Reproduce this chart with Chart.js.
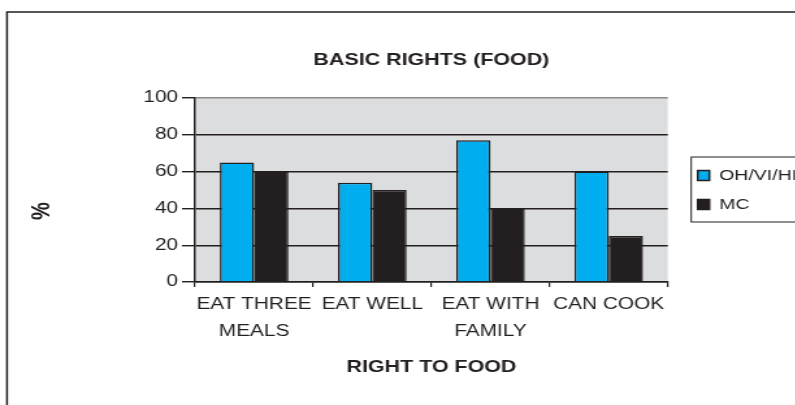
<!DOCTYPE html>
<html>
<head>
<meta charset="utf-8">
<script src="https://cdn.jsdelivr.net/npm/chart.js@4.4.1/dist/chart.umd.min.js"></script>
<style>
  html, body { margin: 0; padding: 0; background: #ffffff; overflow: hidden; width: 795px; height: 405px; }
  #wrap { position: absolute; left: 0; top: 0; width: 640px; height: 405px; transform: scaleX(1.3); transform-origin: 0 0; }
</style>
</head>
<body>
<div id="wrap"><canvas id="c"></canvas></div>
<script>
// ---- data ----
const categories = [['EAT THREE', 'MEALS'], 'EAT WELL', ['EAT WITH', 'FAMILY'], 'CAN COOK'];
const seriesNames = ['OH/VI/HI', 'MC'];
const ohViHi = [65, 54, 77, 60];
const mc = [60, 50, 40, 25];
const yTickValues = [0, 20, 40, 60, 80, 100];
const chartTitle = 'BASIC RIGHTS (FOOD)';
const xAxisTitle = 'RIGHT TO FOOD';
const yAxisTitle = '%';

const INK = '#231F20';
const BLUE = '#00AEEF';
const PLOT_BG = '#DCDDDF';
const FRAME_GRAY = '#8A8A8A';

Chart.defaults.font.family = "'Liberation Sans', Arial, sans-serif";
Chart.defaults.color = INK;

const decor = {
  id: 'decor',
  beforeDraw(chart) {
    const {ctx, chartArea: a} = chart;
    ctx.save();
    ctx.fillStyle = PLOT_BG;
    ctx.fillRect(a.left, a.top, a.right - a.left, a.bottom - a.top);
    // outer chart frame (extends past the visible window)
    ctx.strokeStyle = INK;
    ctx.lineWidth = 1.5;
    ctx.strokeRect(5.4, 12, chart.width + 20, chart.height + 40);
    ctx.restore();
  },
  afterDraw(chart) {
    const {ctx} = chart;
    const hb = chart.legend && chart.legend.legendHitBoxes;
    ctx.save();
    if (hb && hb.length) {
      const top = hb[0].top - 11;
      const bottom = hb[hb.length - 1].top + hb[hb.length - 1].height + 10;
      ctx.strokeStyle = INK;
      ctx.lineWidth = 1;
      ctx.strokeRect(hb[0].left - 5, top, chart.width + 20, bottom - top);
    }
    // y axis title
    ctx.translate(32.7, 211);
    ctx.rotate(-Math.PI / 2);
    ctx.font = "bold 20px 'Liberation Sans', Arial, sans-serif";
    ctx.fillStyle = INK;
    ctx.textAlign = 'center';
    ctx.textBaseline = 'middle';
    ctx.fillText(yAxisTitle, 0, 0);
    ctx.restore();
  }
};

new Chart(document.getElementById('c'), {
  type: 'bar',
  data: {
    labels: categories,
    datasets: [
      { label: seriesNames[0], data: ohViHi, backgroundColor: BLUE, borderColor: INK, borderWidth: 1.5 },
      { label: seriesNames[1], data: mc, backgroundColor: INK, borderColor: INK, borderWidth: 1.5 }
    ]
  },
  options: {
    responsive: true,
    maintainAspectRatio: false,
    animation: false,
    devicePixelRatio: 1,
    layout: { padding: { left: 0, right: 27.3, top: 0, bottom: 0 } },
    datasets: { bar: { categoryPercentage: 0.58, barPercentage: 1.0 } },
    plugins: {
      title: {
        display: true,
        text: chartTitle,
        fullSize: false,
        color: INK,
        font: { size: 16.5, weight: 'bold', lineHeight: 1.2 },
        padding: { top: 50.1, bottom: 28.1 }
      },
      legend: {
        display: true,
        position: 'right',
        fullSize: false,
        align: 'center',
        maxWidth: 90,
        labels: {
          color: INK,
          font: { size: 15 },
          boxWidth: 9,
          boxHeight: 10,
          padding: 14
        }
      },
      tooltip: { enabled: false }
    },
    scales: {
      x: {
        afterFit(scale) { scale.height = 123; },
        grid: {
          display: true,
          offset: true,
          drawOnChartArea: true,
          color: (ctx) => (ctx.index === categories.length ? FRAME_GRAY : 'rgba(0,0,0,0)'),
          tickColor: INK,
          tickLength: 5,
          lineWidth: 1.2
        },
        border: { display: true, color: INK, width: 1.5 },
        ticks: { color: INK, font: { size: 16, lineHeight: 1.67 }, padding: 4.5, maxRotation: 0, autoSkip: false },
        title: {
          display: true,
          text: xAxisTitle,
          color: INK,
          font: { size: 16.5, weight: 'bold', lineHeight: 1.2 },
          padding: { top: 0, bottom: 27.4 }
        }
      },
      y: {
        min: 0,
        max: 100,
        afterFit(scale) { scale.width = 150; },
        afterBuildTicks(scale) { scale.ticks = yTickValues.map(v => ({ value: v })); },
        grid: {
          color: (ctx) => (ctx.tick && ctx.tick.value === 100 ? FRAME_GRAY : INK),
          tickColor: INK,
          tickLength: 10,
          lineWidth: 1.4
        },
        border: { display: true, color: INK, width: 1.5 },
        ticks: { color: INK, font: { size: 16 }, padding: 3 }
      },
      gap: {
        type: 'linear',
        position: 'right',
        display: true,
        afterFit(scale) { scale.width = 9; },
        grid: { display: false, drawTicks: false },
        border: { display: false },
        ticks: { display: false }
      }
    }
  },
  plugins: [decor]
});
</script>
</body>
</html>
